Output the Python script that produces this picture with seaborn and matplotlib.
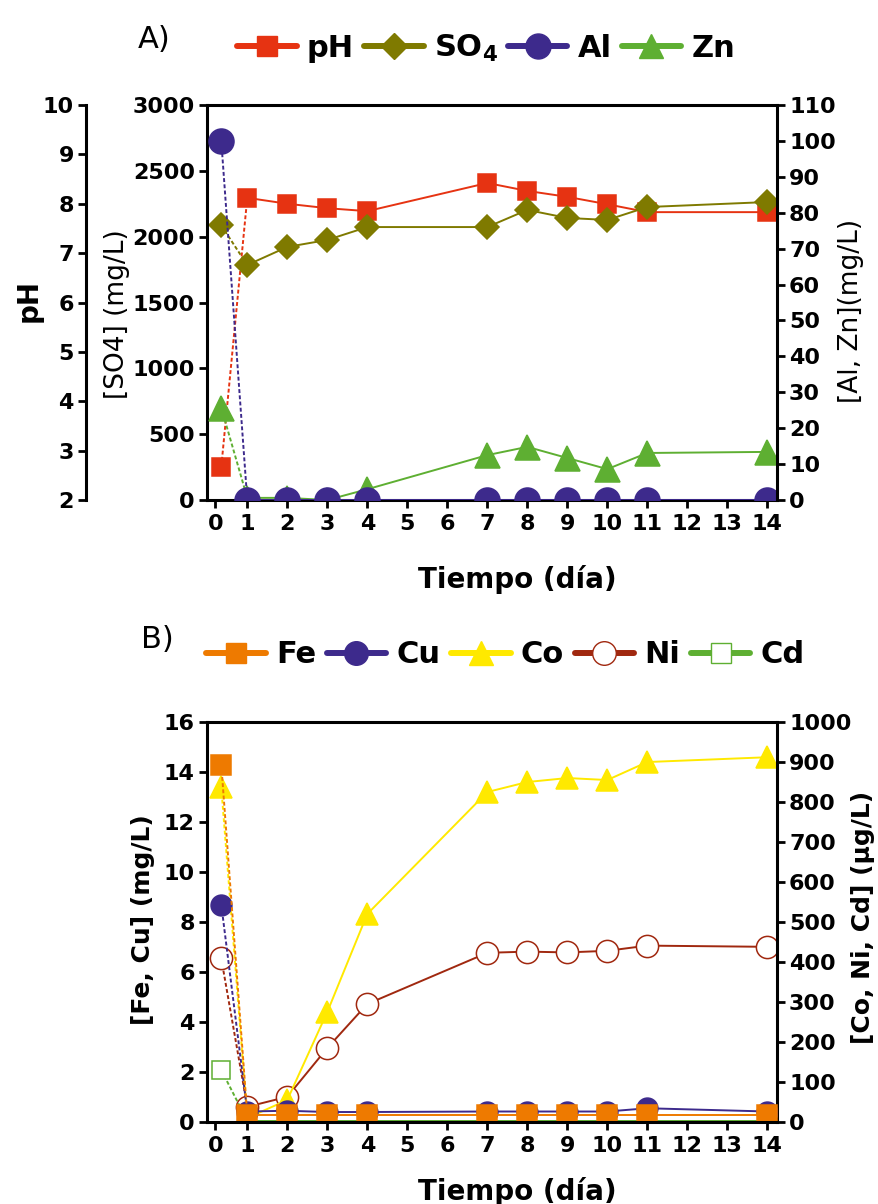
import matplotlib
matplotlib.use('Agg')
import matplotlib.pyplot as plt
from matplotlib.lines import Line2D
import seaborn as sns

sns.set_style('ticks')
plt.rcParams['font.family'] = ['DejaVu Sans']
plt.rcParams.update({
    'font.weight': 'bold',
    'text.color': 'black',
    'axes.labelcolor': 'black',
    'axes.edgecolor': 'black',
    'axes.linewidth': 2.2,
    'xtick.color': 'black',
    'ytick.color': 'black',
    'mathtext.default': 'regular',
})

# -- datos --
tiempo = [0.35, 1, 2, 3, 4, 7, 8, 9, 10, 11, 14]
ticks_x = [0.2, 1, 2, 3, 4, 5, 6, 7, 8, 9, 10, 11, 12, 13, 14]
etiquetas_x = ['0', '1', '2', '3', '4', '5', '6', '7', '8', '9', '10',
               '11', '12', '13', '14']

# panel A
ph = [2.67, 8.12, 8.00, 7.91, 7.85, 8.42, 8.26, 8.14, 7.99, 7.83, 7.83]
so4 = [2085, 1785, 1922, 1975, 2073, 2073, 2203, 2142, 2127, 2225, 2263]
al = [100, 0, 0, 0, 0, 0, 0, 0, 0, 0, 0]
zn = [25.7, 0.6, 0.6, 0, 3.0, 12.5, 14.8, 11.7, 8.6, 13.1, 13.4]

# panel B
fe = [14.3, 0.30, 0.30, 0.30, 0.30, 0.30, 0.30, 0.30, 0.30, 0.30, 0.30]
cu = [8.7, 0.42, 0.45, 0.40, 0.40, 0.42, 0.42, 0.42, 0.42, 0.55, 0.42]
co = [837, 10, 55, 275, 520, 825, 850, 860, 855, 900, 912]
ni = [409, 38, 63, 185, 295, 423, 426, 424, 428, 441, 438]
cd = [130, 3, 3, 3, 3, 3, 3, 3, 3, 3, 3]

C_PH, C_SO4, C_AL, C_ZN = '#E63312', '#7F7A00', '#3D2A8C', '#5EAF32'
C_FE, C_CU, C_CO, C_NI, C_CD = '#EE7A00', '#3D2A8C', '#FFE900', '#A0280F', '#5EAF32'


def trazar(ax, valores, color, marcador, tam, relleno=None):
    relleno = color if relleno is None else relleno
    estilo = dict(color=color, linewidth=1.4, marker=marcador, markersize=tam,
                  markerfacecolor=relleno, markeredgecolor=color,
                  markeredgewidth=1.1, errorbar=None, legend=False)
    # primer tramo (0 -> 1 dia) punteado
    sns.lineplot(x=tiempo[:2], y=valores[:2], ax=ax, linestyle=(0, (2, 1.2)),
                 markevery=[0], **estilo)
    sns.lineplot(x=tiempo[1:], y=valores[1:], ax=ax, **estilo)


def ejes_y(ax, lado, lim, ticks):
    ax.set_ylim(*lim)
    ax.set_yticks(ticks)
    for s in ['left', 'right', 'top', 'bottom']:
        ax.spines[s].set_visible(False)
    ax.spines[lado].set_visible(True)
    if lado == 'left':
        ax.yaxis.tick_left()
        ax.yaxis.set_label_position('left')
    else:
        ax.yaxis.tick_right()
        ax.yaxis.set_label_position('right')
    ax.tick_params(axis='y', length=6, width=2, labelsize=16, pad=3)


def eje_x(ax):
    ax.set_xlim(0, 14.23)
    ax.set_xticks(ticks_x, etiquetas_x)
    ax.tick_params(axis='x', length=6, width=2, labelsize=16, pad=4)
    ax.spines['bottom'].set_visible(True)
    ax.spines['top'].set_visible(True)


fig = plt.figure(figsize=(8.79, 12.04), dpi=100)

# -- A) pH, SO4, Al, Zn --
ax_ph = fig.add_axes([0.2358, 0.5847, 0.6476, 0.3281])
ax_so4 = ax_ph.twinx()
ax_met = ax_ph.twinx()

trazar(ax_ph, ph, C_PH, 's', 13)
trazar(ax_so4, so4, C_SO4, 'D', 12)
trazar(ax_met, zn, C_ZN, '^', 18)
trazar(ax_met, al, C_AL, 'o', 18)

ejes_y(ax_ph, 'left', (2, 10), range(2, 11))
ax_ph.spines['left'].set_position(('axes', -0.2125))
ejes_y(ax_so4, 'left', (0, 3000), range(0, 3001, 500))
ejes_y(ax_met, 'right', (0, 110), range(0, 111, 10))
eje_x(ax_ph)

ax_ph.set_ylabel('pH', fontsize=20, fontweight='bold')
ax_ph.yaxis.set_label_coords(-0.289, 0.506)
ax_so4.set_ylabel('[SO4] (mg/L)', fontsize=19, fontweight='normal')
ax_so4.yaxis.set_label_coords(-0.136, 0.47)
ax_met.set_ylabel('[Al, Zn](mg/L)', fontsize=19, fontweight='normal')
ax_met.yaxis.set_label_coords(1.108, 0.478)
ax_ph.set_xlabel('Tiempo (día)', fontsize=20, fontweight='bold')
ax_ph.xaxis.set_label_coords(0.545, -0.165)

ley_a = [
    Line2D([], [], color=C_PH, lw=4.3, marker='s', ms=14, mec=C_PH),
    Line2D([], [], color=C_SO4, lw=4.3, marker='D', ms=13, mec=C_SO4),
    Line2D([], [], color=C_AL, lw=4.3, marker='o', ms=18, mec=C_AL),
    Line2D([], [], color=C_ZN, lw=4.3, marker='^', ms=17, mec=C_ZN),
]
fig.legend(ley_a, ['pH', 'SO$_4$', 'Al', 'Zn'], loc='center',
           bbox_to_anchor=(0.553, 0.960), ncol=4, frameon=False,
           prop={'size': 22, 'weight': 'bold'}, handlelength=1.95,
           handletextpad=0.33, columnspacing=0.33, borderaxespad=0)
fig.text(0.157, 0.9676, 'A)', fontsize=22, fontweight='normal', va='center')

# -- B) Fe, Cu, Co, Ni, Cd --
ax_b = fig.add_axes([0.2358, 0.0681, 0.6476, 0.3322])
ax_b2 = ax_b.twinx()
ax_b2.set_zorder(ax_b.get_zorder() - 1)
ax_b.patch.set_visible(False)

trazar(ax_b2, ni, C_NI, 'o', 16, relleno='white')
trazar(ax_b2, co, C_CO, '^', 16)
trazar(ax_b2, cd, C_CD, 's', 13.5, relleno='white')
trazar(ax_b, cu, C_CU, 'o', 15)
trazar(ax_b, fe, C_FE, 's', 14)

ejes_y(ax_b, 'left', (0, 16), range(0, 17, 2))
ejes_y(ax_b2, 'right', (0, 1000), range(0, 1001, 100))
eje_x(ax_b)

ax_b.set_ylabel('[Fe, Cu] (mg/L)', fontsize=18, fontweight='bold')
ax_b.yaxis.set_label_coords(-0.092, 0.507)
ax_b2.set_ylabel('[Co, Ni, Cd] (µg/L)', fontsize=18, fontweight='bold')
ax_b2.yaxis.set_label_coords(1.131, 0.512)
ax_b.set_xlabel('Tiempo (día)', fontsize=20, fontweight='bold')
ax_b.xaxis.set_label_coords(0.545, -0.1375)

ley_b = [
    Line2D([], [], color=C_FE, lw=4.3, marker='s', ms=14, mec=C_FE),
    Line2D([], [], color=C_CU, lw=4.3, marker='o', ms=17, mec=C_CU),
    Line2D([], [], color=C_CO, lw=4.3, marker='^', ms=17, mec=C_CO),
    Line2D([], [], color=C_NI, lw=4.3, marker='o', ms=17, mfc='white', mec=C_NI),
    Line2D([], [], color=C_CD, lw=4.3, marker='s', ms=14, mfc='white', mec=C_CD),
]
fig.legend(ley_b, ['Fe', 'Cu', 'Co', 'Ni', 'Cd'], loc='center',
           bbox_to_anchor=(0.575, 0.456), ncol=5, frameon=False,
           prop={'size': 22, 'weight': 'bold'}, handlelength=1.95,
           handletextpad=0.33, columnspacing=0.35, borderaxespad=0)
fig.text(0.160, 0.469, 'B)', fontsize=22, fontweight='normal', va='center')

fig.savefig('out.png', dpi=100)
plt.close(fig)
